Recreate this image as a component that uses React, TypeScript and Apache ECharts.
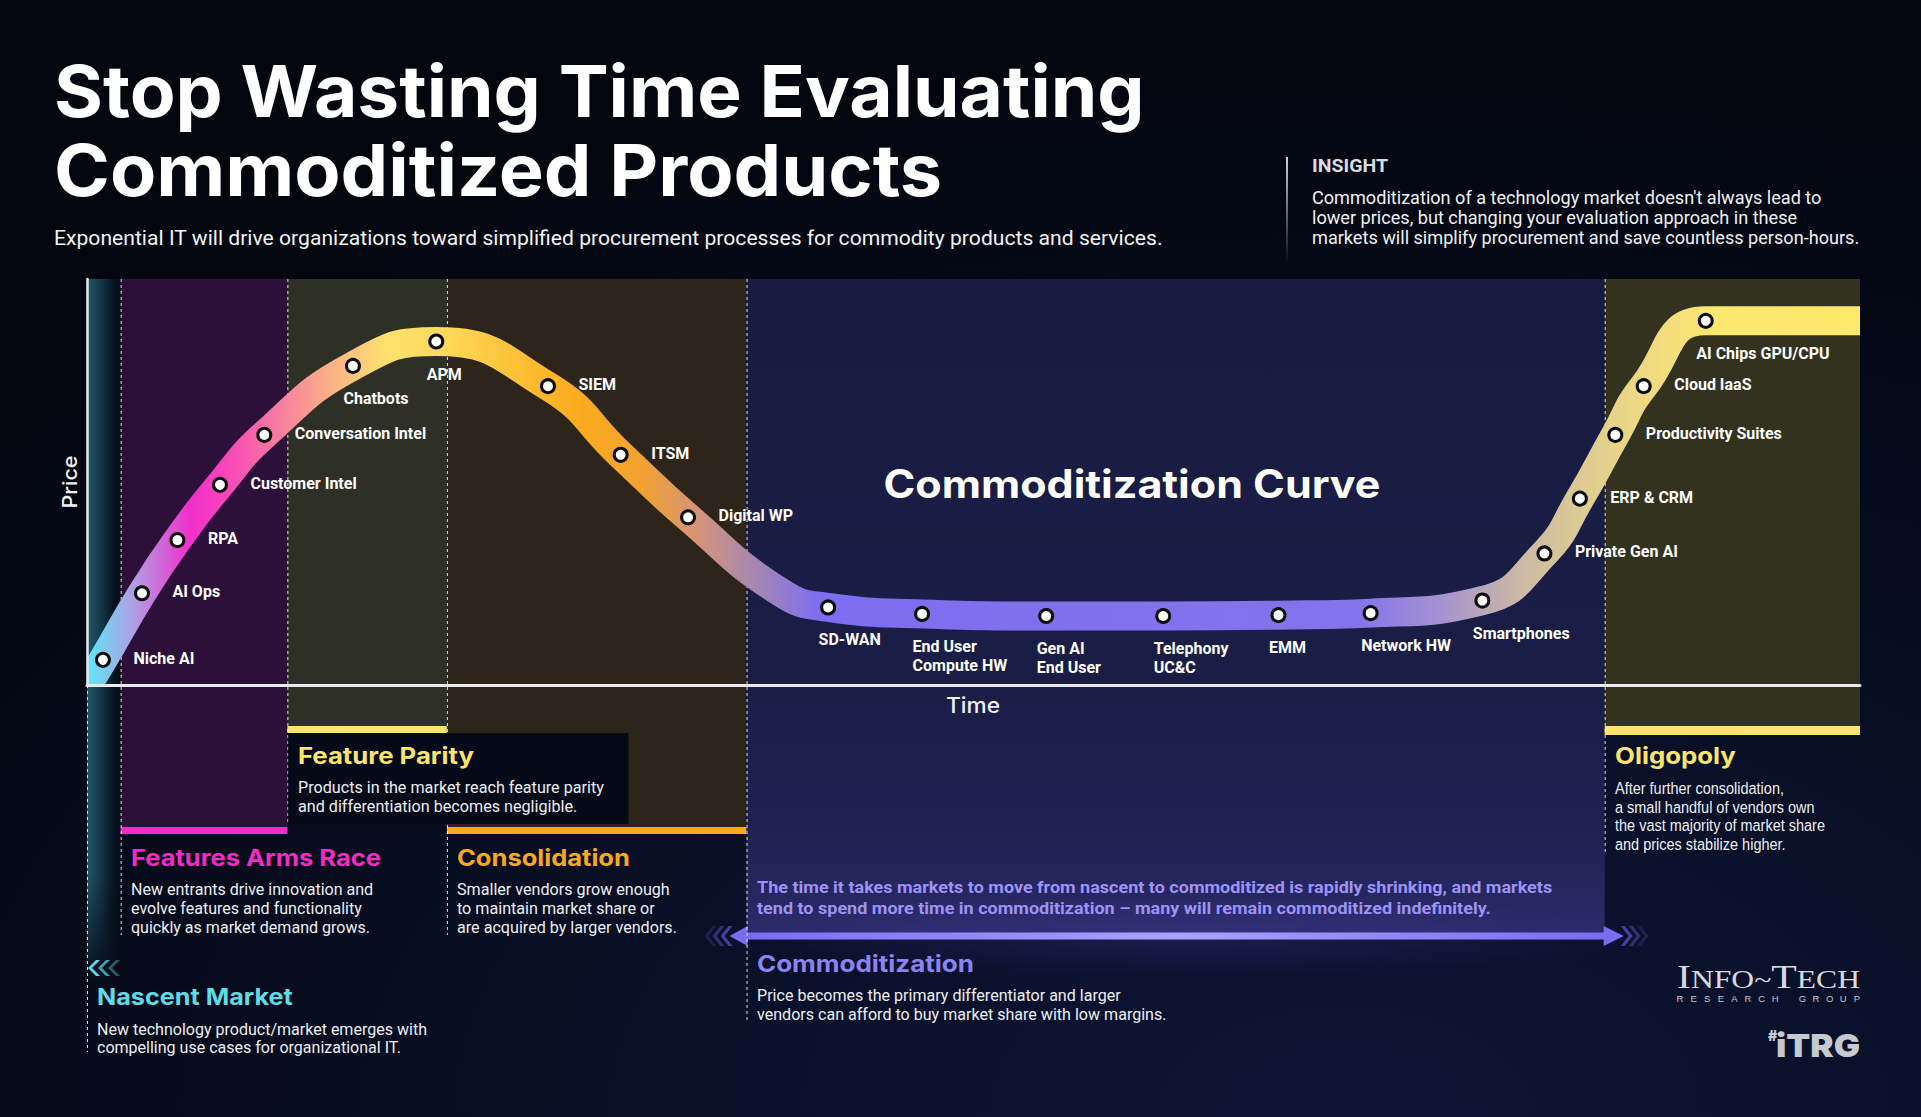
import React, { useEffect, useRef } from 'react';
import * as echarts from 'echarts';

// ================= DATA =================
const titleLines = ['Stop Wasting Time Evaluating', 'Commoditized Products'];
const subtitle = 'Exponential IT will drive organizations toward simplified procurement processes for commodity products and services.';
const insightHead = 'INSIGHT';
const insightLines = [
  "Commoditization of a technology market doesn't always lead to",
  'lower prices, but changing your evaluation approach in these',
  'markets will simplify procurement and save countless person-hours.',
];
const curveTitle = 'Commoditization Curve';
const axisNameX = 'Time';
const axisNameY = 'Price';

const productNames = [
  'Niche AI', 'AI Ops', 'RPA', 'Customer Intel', 'Conversation Intel', 'Chatbots', 'APM', 'SIEM', 'ITSM',
  'Digital WP', 'SD-WAN', 'End User\nCompute HW', 'Gen AI\nEnd User', 'Telephony\nUC&C', 'EMM', 'Network HW',
  'Smartphones', 'Private Gen AI', 'ERP & CRM', 'Productivity Suites', 'Cloud IaaS', 'AI Chips GPU/CPU',
];
const productTime = [0.9, 3.1, 5.1, 7.5, 10.0, 15.0, 19.7, 26.0, 30.1, 33.9, 41.8, 47.1, 54.1, 60.7, 67.2, 72.4, 78.7, 82.2, 84.2, 86.2, 87.8, 91.3];
const productPrice = [6.2, 22.6, 35.7, 49.3, 61.6, 78.6, 84.6, 73.6, 56.7, 41.3, 19.1, 17.5, 17.0, 17.0, 17.2, 17.7, 20.8, 32.4, 45.9, 61.6, 73.6, 89.7];
// extra points on the curve centre line (entry below the axes, bend, exit at right)
const shapeTime = [-0.6, 39.1, 101];
const shapePrice = [-4.5, 22.9, 89.7];

const phaseNames = ['Nascent Market', 'Features Arms Race', 'Feature Parity', 'Consolidation', 'Commoditization', 'Oligopoly'];
const phaseStart = [0, 1.9, 11.3, 20.3, 37.2, 85.6];
const phaseEnd = [1.9, 11.3, 20.3, 37.2, 85.6, 100];
const phaseText = [
  ['New technology product/market emerges with', 'compelling use cases for organizational IT.'],
  ['New entrants drive innovation and', 'evolve features and functionality', 'quickly as market demand grows.'],
  ['Products in the market reach feature parity', 'and differentiation becomes negligible.'],
  ['Smaller vendors grow enough', 'to maintain market share or', 'are acquired by larger vendors.'],
  ['Price becomes the primary differentiator and larger', 'vendors can afford to buy market share with low margins.'],
  ['After further consolidation,', 'a small handful of vendors own', 'the vast majority of market share', 'and prices stabilize higher.'],
];
const shrinkNote = [
  'The time it takes markets to move from nascent to commoditized is rapidly shrinking, and markets',
  'tend to spend more time in commoditization \u2013 many will remain commoditized indefinitely.',
];

// ================= LAYOUT / STYLE =================
const GL = 87, GT = 279, GW = 1773, GH = 406;
const BAND = 29; // curve band thickness
const HW = BAND / 2;
const labelBelow = new Set(['Chatbots', 'APM', 'SD-WAN', 'End User\nCompute HW', 'Gen AI\nEnd User', 'Telephony\nUC&C', 'EMM', 'Network HW', 'Smartphones', 'AI Chips GPU/CPU']);

const phaseTitleColor = ['#5fdbe6', '#f22cc3', '#fbe46c', '#f8a81e', '#8c83f3', '#fbe46c'];
const sectionLayout = [
  { x: 97, ty: 996.7, tw: 196, by: 1029, gap: 18.8, ref: 0, rw: 330, family: 'Roboto' },
  { x: 131, ty: 857.7, tw: 250, by: 889.3, gap: 19.2, ref: 0, rw: 242.4, family: 'Roboto' },
  { x: 298, ty: 756, tw: 176, by: 787.5, gap: 19.2, ref: 0, rw: 306, family: 'Roboto' },
  { x: 457, ty: 857.7, tw: 173, by: 889.3, gap: 19.2, ref: 2, rw: 220, family: 'Roboto' },
  { x: 757, ty: 963.3, tw: 217, by: 995, gap: 19, ref: 1, rw: 410, family: 'Roboto' },
  { x: 1615, ty: 756, tw: 121, by: 788, gap: 18.7, ref: 2, rw: 210, family: 'Liberation Sans' },
];

const mctx = typeof document !== 'undefined' ? document.createElement('canvas').getContext('2d') : null;
function measure(text: string, size: number, family: string, weight: any = 'normal') {
  if (!mctx) return text.length * size * 0.5;
  mctx.font = `${weight} ${size}px "${family}"`;
  return mctx.measureText(text).width || 1;
}

function txt(x: number, y: number, text: string, o: any) {
  const family = o.family || 'Roboto';
  const weight = o.weight ?? 'normal';
  let sx = o.sx ?? 1;
  if (o.w) sx = o.w / measure(text, o.size, family, weight);
  return {
    type: 'text', x, y, scaleX: sx, rotation: o.rotation || 0, z: 100, silent: true,
    style: {
      text, fill: o.color || '#ffffff', fontSize: o.size, fontFamily: family, fontWeight: weight,
      align: o.align || 'left', verticalAlign: 'middle', ...(o.extra || {}),
    },
  };
}

function block(x: number, y0: number, gap: number, lines: string[], o: any, refIdx: number, refW: number) {
  const family = o.family || 'Roboto';
  const sx = refW / measure(lines[refIdx], o.size, family, o.weight ?? 'normal');
  return lines.map((l, i) => txt(x, y0 + i * gap, l, { ...o, sx }));
}

const LG = (x: number, y: number, x2: number, y2: number, stops: [number, string][], global = false) =>
  new echarts.graphic.LinearGradient(x, y, x2, y2, stops.map(([offset, color]) => ({ offset, color })), global);

function chevron(t: number, y: number, dir: number, w: number, h: number, th: number) {
  // dir = 1 pointing left (tip at t), -1 pointing right
  return [[t, y], [t + dir * w, y - h], [t + dir * (w + th), y - h], [t + dir * th, y], [t + dir * (w + th), y + h], [t + dir * w, y + h]];
}

const phaseStyle: any[] = [
  { fill: LG(0, 0, 1, 0, [[0, '#22596b'], [0.45, '#133545'], [0.8, '#08121f'], [1, '#060c1a']]), depth: 300, dotDepth: 367, fromAxis: true },
  { fill: '#2c103a', depth: 142, bar: '#f22cc5', barH: 7, dotDepth: 250 },
  { fill: '#2f3025', depth: 41, bar: '#fbe36e', barH: 7, dotDepth: 139, box: { w: 340, h: 91 } },
  { fill: '#2d2519', depth: 142, bar: '#f9a91c', barH: 7, dotDepth: 250 },
  { fill: LG(0, 0, 0, 1, [[0, '#181b41'], [0.6, '#1a1e46'], [0.85, '#1f2252'], [1, '#2b2b6a']]), depth: 251, dotDepth: 335, arrow: true },
  { fill: '#32321f', depth: 41, bar: '#fbe36e', barH: 9, dotDepth: 170 },
];

function renderPhase(params: any, api: any) {
  const i = params.dataIndex;
  const st = phaseStyle[i];
  const a = api.coord([api.value(0), 100]);
  const b = api.coord([api.value(1), 0]);
  const x0 = a[0], x1 = b[0], top = a[1], axisY = b[1];
  const ch: any[] = [];
  ch.push({ type: 'rect', shape: { x: x0, y: top, width: x1 - x0, height: axisY + st.depth - top }, style: { fill: st.fill } });
  if (st.bar) ch.push({ type: 'rect', shape: { x: x0, y: axisY + st.depth, width: x1 - x0, height: st.barH }, style: { fill: st.bar } });
  if (st.box) ch.push({ type: 'rect', z2: 8, shape: { x: x0 + 1, y: axisY + st.depth + st.barH, width: st.box.w, height: st.box.h }, style: { fill: '#050a19' } });
  if (st.fromAxis) {
    ch.push({ type: 'rect', z2: 3, shape: { x: x0, y: axisY + st.depth - 110, width: x1 - x0, height: 112 }, style: { fill: LG(0, 0, 0, 1, [[0, 'rgba(6,11,26,0)'], [1, 'rgba(6,11,26,1)']]) } });
    const cy = axisY + 283;
    [1, 0.7, 0.4].forEach((op, k) => {
      ch.push({ type: 'polygon', z2: 4, shape: { points: chevron(x0 + 1 + k * 10, cy, 1, 8, 8, 4) }, style: { fill: '#5fd6e2', opacity: op } });
    });
  }
  if (st.arrow) {
    const ay = axisY + st.depth;
    ch.push({ type: 'rect', z2: 2, shape: { x: x0 - 40, y: ay - 40, width: x1 - x0 + 80, height: 80 }, style: { fill: new echarts.graphic.RadialGradient(0.5, 0.5, 0.5, [{ offset: 0, color: 'rgba(80,70,190,0.22)' }, { offset: 1, color: 'rgba(80,70,190,0)' }]) } });
    ch.push({ type: 'rect', z2: 6, shape: { x: x0, y: ay - 3.5, width: x1 - x0, height: 7 }, style: { fill: LG(0, 0, 1, 0, [[0, '#7a6cf2'], [0.5, '#a8a3ff'], [1, '#7a6cf2']]) } });
    ch.push({ type: 'polygon', z2: 6, shape: { points: [[x0 - 17, ay], [x0 + 1, ay - 10], [x0 + 1, ay + 10]] }, style: { fill: '#7a6cf2' } });
    ch.push({ type: 'polygon', z2: 6, shape: { points: [[x1 + 19, ay], [x1 - 1, ay - 10], [x1 - 1, ay + 10]] }, style: { fill: '#7a6cf2' } });
    [0.55, 0.35, 0.18].forEach((op, k) => {
      ch.push({ type: 'polygon', z2: 6, shape: { points: chevron(x0 - 26 - k * 8, ay, 1, 8, 10, 4) }, style: { fill: '#7a6cf2', opacity: op } });
      ch.push({ type: 'polygon', z2: 6, shape: { points: chevron(x1 + 28 + k * 8, ay, -1, 8, 10, 4) }, style: { fill: '#7a6cf2', opacity: op } });
    });
  }
  const dTop = st.fromAxis ? axisY : top;
  ch.push({ type: 'line', z2: 7, shape: { x1: x0 + 0.5, y1: dTop, x2: x0 + 0.5, y2: axisY + st.dotDepth }, style: { stroke: 'rgba(255,255,255,0.85)', lineWidth: 1, lineDash: [3, 3] } });
  return { type: 'group', children: ch };
}

function buildOption() {
  const curve = [
    ...productTime.map((t, i) => [t, productPrice[i]]),
    ...shapeTime.map((t, i) => [t, shapePrice[i]]),
  ].sort((p, q) => p[0] - q[0]);

  const frac = (px: number) => (px - GL) / GW;
  const curveGradient = new echarts.graphic.LinearGradient(GL, 0, GL + GW, 0, ([
    [87, '#5de7f8'], [135, '#b39be4'], [190, '#f02fca'], [225, '#f744bb'], [270, '#f873a2'], [330, '#fab089'],
    [385, '#fde16e'], [445, '#fed95a'], [520, '#fdbf35'], [580, '#fbab1e'], [640, '#f2a22e'], [700, '#d4937a'],
    [760, '#a285b8'], [820, '#7e6df0'], [1360, '#8474ea'], [1440, '#a492d2'], [1520, '#cbb9a6'], [1600, '#e2d08e'],
    [1670, '#f5de7b'], [1720, '#fde86f'], [1860, '#fee96c'],
  ] as [number, string][]).map(([px, c]) => ({ offset: Math.max(0, Math.min(1, frac(px))), color: c })), true);

  const scatterData = productNames.map((n, i) => ({
    name: n,
    value: [productTime[i], productPrice[i]],
    label: labelBelow.has(n)
      ? { position: [-1.5, 31], verticalAlign: 'top', align: 'left' }
      : { position: [38.5, 6.5], verticalAlign: 'middle', align: 'left' },
  }));

  const graphics: any[] = [];
  graphics.push({
    type: 'rect', z: 0, silent: true, shape: { x: 0, y: 0, width: 1921, height: 1117 },
    style: { fill: new echarts.graphic.RadialGradient(0.7, 1.0, 0.95, [{ offset: 0, color: '#0d1537' }, { offset: 0.55, color: '#070d20' }, { offset: 1, color: '#03060f' }]) },
  });
  // title
  graphics.push(txt(54, 91, titleLines[0], { size: 72, family: 'Inter', weight: 'bold', w: 1091 }));
  graphics.push(txt(54, 170, titleLines[1], { size: 72, family: 'Inter', weight: 'bold', w: 888 }));
  graphics.push(txt(54, 238.3, subtitle, { size: 19.5, family: 'Roboto', w: 1109, color: '#f2f3f6' }));
  // insight
  graphics.push({ type: 'rect', z: 100, silent: true, shape: { x: 1286, y: 157, width: 2, height: 106 }, style: { fill: LG(0, 0, 0, 1, [[0, 'rgba(230,232,240,0.9)'], [1, 'rgba(230,232,240,0)']]) } });
  graphics.push(txt(1312, 166.7, insightHead, { size: 18, family: 'Roboto', weight: 'bold', w: 76, color: '#d9dce3' }));
  graphics.push(...block(1312, 198.3, 20, insightLines, { size: 19, family: 'Roboto', color: '#eef0f4' }, 2, 548));
  // curve title & axis names
  graphics.push(txt(1132, 484, curveTitle, { size: 39, family: 'Inter', weight: 'bold', w: 497, align: 'center', extra: { shadowColor: 'rgba(0,0,0,0.6)', shadowBlur: 10, shadowOffsetY: 3 } }));
  graphics.push(txt(973, 705.5, axisNameX, { size: 21, family: 'Inter', weight: 500, w: 54, align: 'center', color: '#f0f1f5' }));
  graphics.push(txt(70, 482, axisNameY, { size: 20, family: 'Inter', weight: 500, w: 53, align: 'center', rotation: Math.PI / 2, color: '#f0f1f5' }));
  // phase sections
  phaseNames.forEach((name, i) => {
    const L = sectionLayout[i];
    graphics.push(txt(L.x, L.ty, name, { size: 23, family: 'Inter', weight: 'bold', w: L.tw, color: phaseTitleColor[i] }));
    graphics.push(...block(L.x, L.by, L.gap, phaseText[i], { size: 17, family: L.family, color: '#eceef3' }, L.ref, L.rw));
  });
  graphics.push(...block(757, 887.3, 21, shrinkNote, { size: 17, family: 'Roboto', weight: 'bold', color: '#9d93f6' }, 0, 796));

  // logo INFO~TECH
  const logoParts: [string, boolean][] = [['I', true], ['NFO', false], ['~', false], ['T', true], ['ECH', false]];
  const B = 33, S = 25, lf = 'Liberation Serif';
  const lw = logoParts.map(([t, big]) => measure(t, big ? B : S, lf));
  const ls = 183 / lw.reduce((s, v) => s + v, 0);
  let lx = 1677;
  const baseline = 988;
  logoParts.forEach(([t, big], k) => {
    const size = big ? B : S;
    graphics.push(txt(lx, baseline - 0.3375 * size, t, { size, family: lf, sx: ls, color: '#d6d9df' }));
    lx += lw[k] * ls;
  });
  'RESEARCH GROUP'.split('').forEach((c, k) => {
    if (c !== ' ') graphics.push(txt(1680 + k * 13.6, 998, c, { size: 9.5, family: 'Liberation Sans', align: 'center', color: '#c3c7cf' }));
  });
  graphics.push(txt(1768, 1035, '#', { size: 14, family: 'Inter', weight: 900, color: '#c6c9cf' }));
  graphics.push(txt(1776, 1046, 'iTRG', { size: 32, family: 'Inter', weight: 900, w: 84, color: '#c6c9cf' }));

  const axisOff = { axisTick: { show: false }, axisLabel: { show: false }, splitLine: { show: false } };
  const ox = (100 * HW) / GW, oy = (100 * HW) / GH;

  return {
    animation: false,
    grid: [
      { left: GL, top: GT, width: GW, height: GH, containLabel: false },
      // inner grid with the same scale, so the curve's band is clipped exactly at the axes
      { left: GL + HW, top: GT + HW, width: GW - 2 * HW, height: GH - 2 * HW, containLabel: false },
    ],
    xAxis: [
      { type: 'value', gridIndex: 0, min: 0, max: 100, z: 6, axisLine: { show: true, onZero: false, lineStyle: { color: '#e9e9ef', width: 3 } }, ...axisOff },
      { type: 'value', gridIndex: 1, min: ox, max: 100 - ox, axisLine: { show: false }, ...axisOff },
    ],
    yAxis: [
      { type: 'value', gridIndex: 0, min: 0, max: 100, z: 6, axisLine: { show: true, lineStyle: { color: '#e9e9ef', width: 2.5 } }, ...axisOff },
      { type: 'value', gridIndex: 1, min: oy, max: 100 - oy, axisLine: { show: false }, ...axisOff },
    ],
    graphic: { elements: graphics },
    series: [
      {
        type: 'custom', name: 'phases', z: 1, silent: true,
        data: phaseStart.map((s, i) => [s, phaseEnd[i], 0]),
        encode: { x: [0, 1], y: 2 },
        renderItem: renderPhase,
      },
      {
        type: 'line', name: 'curve', xAxisIndex: 1, yAxisIndex: 1, z: 3, silent: true, clip: true, smooth: 0.5,
        showSymbol: false, symbol: 'none',
        data: curve,
        lineStyle: { width: BAND, color: curveGradient, cap: 'butt' },
        emphasis: { disabled: true },
      },
      {
        type: 'scatter', name: 'products', z: 4, silent: true,
        symbol: 'circle', symbolSize: 13,
        itemStyle: { color: '#ffffff', borderColor: '#0b0b0b', borderWidth: 3, opacity: 1 },
        label: { show: true, formatter: '{b}', color: '#ffffff', fontFamily: 'Roboto', fontWeight: 'bold', fontSize: 16, lineHeight: 19 },
        emphasis: { disabled: true },
        data: scatterData,
      },
    ],
  };
}

export default function App() {
  const ref = useRef<HTMLDivElement>(null);
  useEffect(() => {
    const chart = echarts.init(ref.current!, null, { renderer: 'svg', width: 1921, height: 1117 });
    chart.setOption(buildOption() as any);
    return () => chart.dispose();
  }, []);
  return <div ref={ref} style={{ position: 'fixed', left: 0, top: 0, width: 1921, height: 1117, background: '#03060f' }} />;
}
